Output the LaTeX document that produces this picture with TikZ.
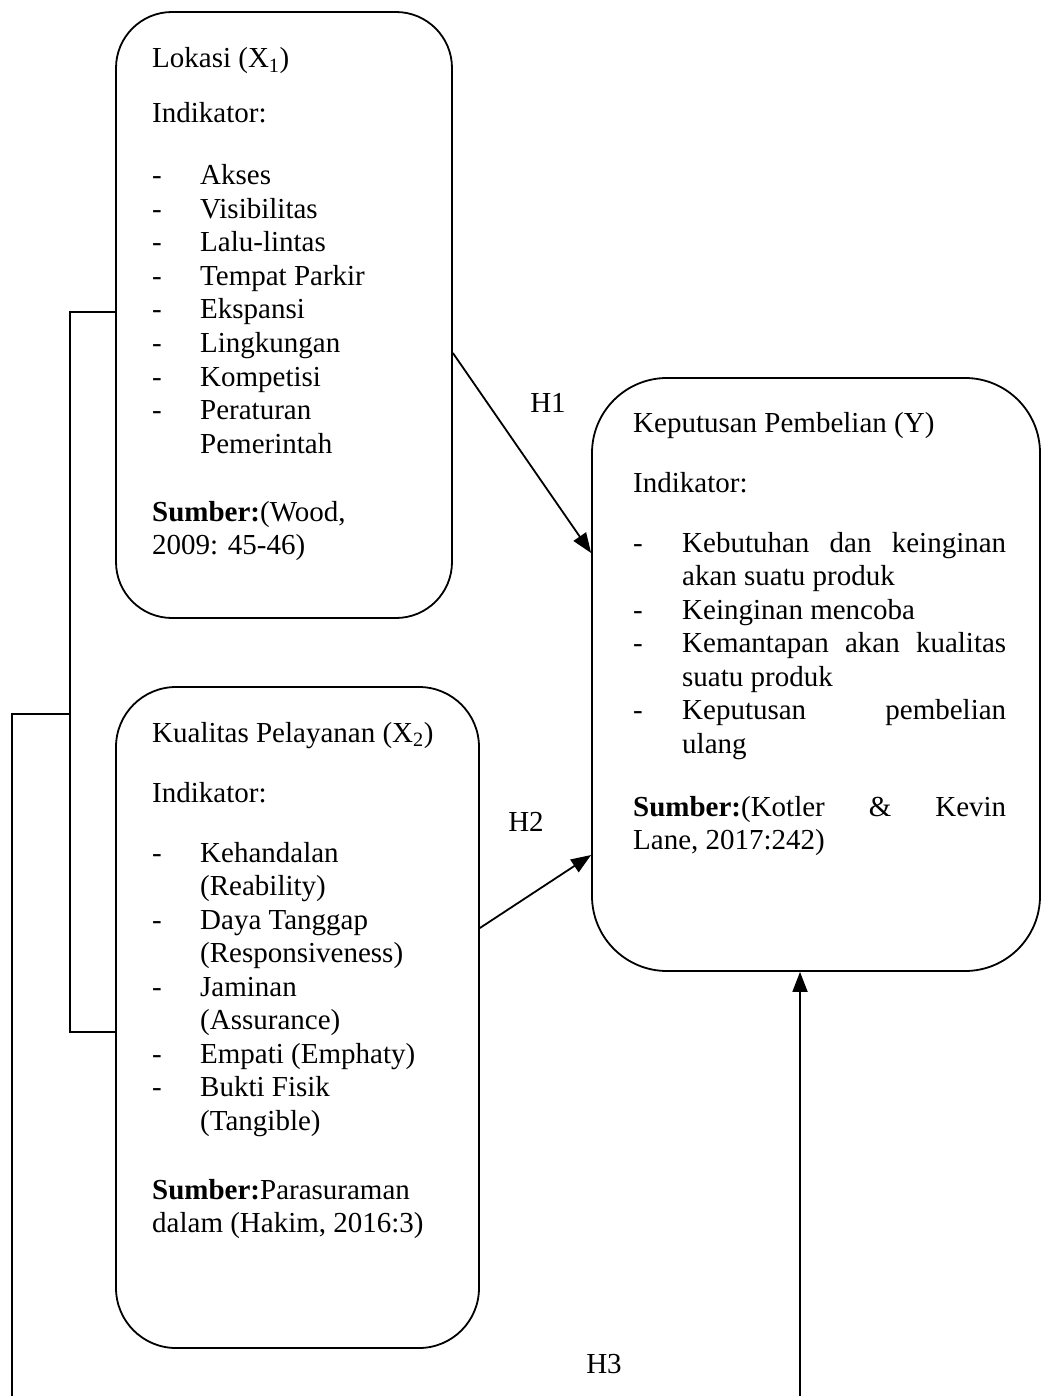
\documentclass[tikz,border=0pt]{standalone}
\usepackage{fontspec}
\setmainfont{Liberation Serif}
\usetikzlibrary{arrows.meta,calc}
\newcommand{\itm}[1]{\makebox[48pt][l]{-}#1}
\begin{document}
\begin{tikzpicture}[x=1pt,y=-1pt,
  box/.style={draw,line width=1.8pt,rounded corners=#1,inner sep=0pt},
  t/.style={anchor=base west,inner sep=0pt,font=\fontsize{29}{33.5}\selectfont},
  conn/.style={line width=1.8pt},
  arr/.style={conn,-{Triangle[length=20pt,width=15pt]}}]
\useasboundingbox (0,0) rectangle (1041,1396);

% boxes
\node[box=56pt,minimum width=336pt,minimum height=606pt] (b1) at (284,315) {};
\node[box=60pt,minimum width=363pt,minimum height=661pt] (b2) at (297.5,1017.5) {};
\node[box=75pt,minimum width=448pt,minimum height=593pt] (b3) at (816,674.5) {};

% box 1 text
\node[t] (t11) at (152,68) {Lokasi (X\textsubscript{1})};
\node[t] (t12) at (152,123) {Indikator:};
\node[t] (t13) at (152,185) {\itm{Akses}};
\node[t] (t14) at (152,218.5) {\itm{Visibilitas}};
\node[t] (t15) at (152,252) {\itm{Lalu-lintas}};
\node[t] (t16) at (152,285.5) {\itm{Tempat Parkir}};
\node[t] (t17) at (152,319) {\itm{Ekspansi}};
\node[t] (t18) at (152,352.5) {\itm{Lingkungan}};
\node[t] (t19) at (152,386) {\itm{Kompetisi}};
\node[t] (t1a) at (152,419.5) {\itm{Peraturan}};
\node[t] (t1b) at (200,453) {Pemerintah};
\node[t] (t1c) at (152,521) {\textbf{Sumber:}(Wood,};
\node[t] (t1d) at (152,554.5) {2009: 45-46)};

% box 2 text
\node[t] (t21) at (152,742) {Kualitas Pelayanan (X\textsubscript{2})};
\node[t] (t22) at (152,802) {Indikator:};
\node[t] (t23) at (152,862) {\itm{Kehandalan}};
\node[t] (t24) at (200,895.5) {(Reability)};
\node[t] (t25) at (152,929) {\itm{Daya Tanggap}};
\node[t] (t26) at (200,962.5) {(Responsiveness)};
\node[t] (t27) at (152,996) {\itm{Jaminan}};
\node[t] (t28) at (200,1029.5) {(Assurance)};
\node[t] (t29) at (152,1063) {\itm{Empati (Emphaty)}};
\node[t] (t2a) at (152,1096.5) {\itm{Bukti Fisik}};
\node[t] (t2b) at (200,1130) {(Tangible)};
\node[t] (t2c) at (152,1199) {\textbf{Sumber:}Parasuraman};
\node[t] (t2d) at (152,1232.5) {dalam (Hakim, 2016:3)};

% box 3 text
\node[t] (t31) at (633,432) {Keputusan Pembelian (Y)};
\node[t] (t32) at (633,492) {Indikator:};
\node[t] (t33) at (633,552) {\makebox[49pt][l]{-}\hbox to 324pt{Kebutuhan\hfill dan\hfill keinginan}};
\node[t] (t34) at (682,585.5) {akan suatu produk};
\node[t] (t35) at (633,619) {\makebox[49pt][l]{-}Keinginan mencoba};
\node[t] (t36) at (633,652.5) {\makebox[49pt][l]{-}\hbox to 324pt{Kemantapan\hfill akan\hfill kualitas}};
\node[t] (t37) at (682,686) {suatu produk};
\node[t] (t38) at (633,719.5) {\makebox[49pt][l]{-}\hbox to 324pt{Keputusan\hfill pembelian}};
\node[t] (t39) at (682,753) {ulang};
\node[t] (t3a) at (633,816) {\hbox to 373pt{\textbf{Sumber:}(Kotler\hfill\&\hfill Kevin}};
\node[t] (t3b) at (633,849.5) {Lane, 2017:242)};

% labels
\node[font=\fontsize{29}{33.5}\selectfont,inner sep=0pt] (h1) at (548,403) {H1};
\node[font=\fontsize{29}{33.5}\selectfont,inner sep=0pt] (h2) at (526,822) {H2};
\node[font=\fontsize{29}{33.5}\selectfont,inner sep=0pt] (h3) at (604,1364) {H3};

% connectors
\draw[arr] ([yshift=-38pt]b1.east) -- ([yshift=121.5pt]b3.west);
\draw[arr] ([yshift=89.5pt]b2.east) -- ([yshift=-180.5pt]b3.west);

\coordinate (jn) at (70,714);
\coordinate (lb) at (12,714);
\coordinate (lbot) at (12,1396);
\coordinate (rbot) at (800,1396);

\draw[conn] ([yshift=3pt]b1.west) -| (jn) |- ([yshift=-14.5pt]b2.west);
\draw[conn] (jn) -- (lb) -- (lbot);
\draw[arr] (rbot) -- ([xshift=-16pt]b3.south);
\end{tikzpicture}
\end{document}
